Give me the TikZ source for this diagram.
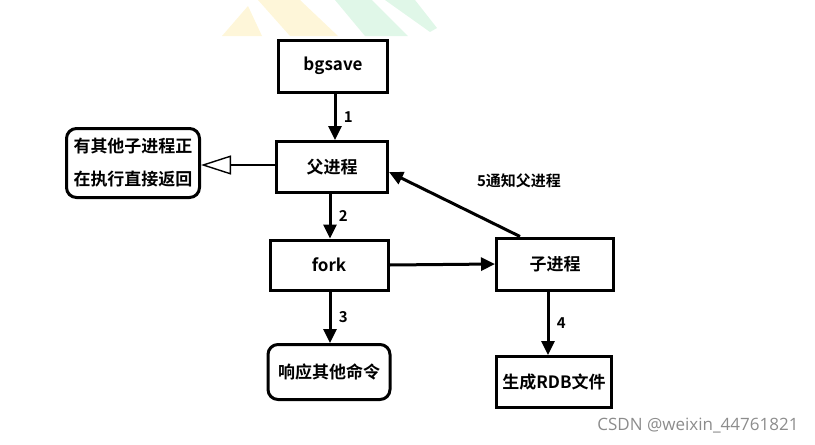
\documentclass[tikz,border=0pt]{standalone}
\usepackage{fontspec}
\setmainfont{Noto Sans CJK SC}[BoldFont={* Bold}]
\newfontfamily\wmfont{Open Sans}
\usetikzlibrary{arrows.meta}
\begin{document}
\begin{tikzpicture}[x=1pt,y=-1pt,
  box/.style={draw, line width=3pt, inner sep=0pt, font=\fontsize{17}{20}\selectfont\bfseries},
  rbox/.style={box, rounded corners=10pt},
  arr/.style={line width=3pt, -{Triangle[length=14pt,width=13pt]}},
  lab/.style={font=\fontsize{15}{18}\selectfont\bfseries}]
\useasboundingbox (0,0) rectangle (815,445);
% faint logo watermark
\fill[yellow!60!orange!14] (222,36) -- (248,6) -- (262,36) -- cycle;
\fill[yellow!60!orange!14] (258,0) -- (300,0) -- (338,36) -- (290,36) -- cycle;
\fill[green!50!teal!12] (335,0) -- (372,0) -- (408,36) -- (365,36) -- cycle;
\fill[green!50!teal!12] (385,0) -- (415,0) -- (437,28) -- (430,32) -- cycle;
% nodes
\node[box, minimum width=109pt, minimum height=52pt] (bg) at (333,66) {bgsave};
\node[box, minimum width=111pt, minimum height=51pt] (fa) at (332,167) {父进程};
\node[box, minimum width=118pt, minimum height=50pt] (fk) at (329,265) {fork};
\node[box, minimum width=117pt, minimum height=52pt] (ch) at (555,264) {子进程};
\node[rbox, minimum width=122pt, minimum height=55pt] (rs) at (329,372) {响应其他命令};
\node[box, minimum width=115pt, minimum height=51pt] (rdb) at (554,382) {生成RDB文件};
\node[rbox, minimum width=133pt, minimum height=69pt, align=left,
  font=\fontsize{17}{33}\selectfont\bfseries] (ot) at (133,163) {有其他子进程正\\在执行直接返回};
% connectors
\draw[arr] (bg.south -| 335,0) -- (fa.north -| 335,0) node[lab, midway, right=4pt] {1};
\draw[arr] (fa.south -| 330,0) -- (fk.north -| 330,0) node[lab, midway, right=4pt] {2};
\draw[arr] (fk.south -| 330,0) -- (rs.north -| 330,0) node[lab, midway, right=4pt] {3};
\draw[arr] (ch.south -| 548,0) -- (rdb.north -| 548,0) node[lab, midway, right=4pt] {4};
\draw[arr] (fk.east) -- (ch.west);
\draw[arr] (ch.north -| 520,0) -- (fa.east |- 0,172);
\node[lab] (l5) at (519,181) {5通知父进程};
\draw[line width=1.4pt, -{Triangle[open, length=30pt, width=19pt, line width=1.4pt]}] (fa.west |- 0,165) -- (ot.east |- 0,165);
\node[font=\wmfont\fontsize{17}{20}\selectfont, text=black!45, anchor=east] (wm) at (802,426) {CSDN @weixin\_44761821};
\end{tikzpicture}
\end{document}
